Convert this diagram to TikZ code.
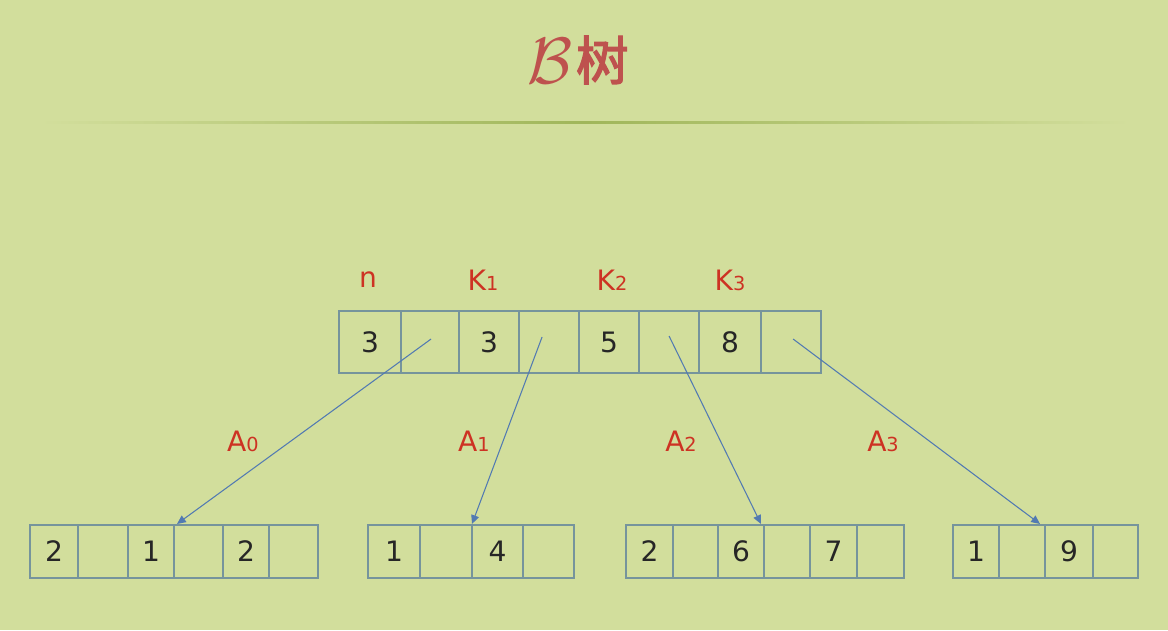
\documentclass[tikz,border=0pt]{standalone}
\usepackage{fontspec}
\setmainfont{DejaVu Sans}
\newfontfamily\cjk[FakeBold=2.5]{Noto Sans CJK SC}
\usetikzlibrary{arrows.meta,calc}
\definecolor{bgc}{RGB}{210,222,156}
\definecolor{rulec}{RGB}{160,182,90}
\definecolor{cellc}{RGB}{118,148,156}
\definecolor{labc}{RGB}{205,50,35}
\definecolor{titc}{RGB}{190,82,78}
\definecolor{arrc}{RGB}{82,122,178}
\newcommand\topcell[4]{\node[cell, minimum width={(#3-#2)*0.02cm}, minimum height={62*0.02cm}, anchor=west] (#1) at (#2,342) {#4};}
\newcommand\botcell[4]{\node[cell, minimum width={(#3-#2)*0.02cm}, minimum height={53*0.02cm}, anchor=west] (#1) at (#2,551.5) {#4};}
\newcommand\smalldig[1]{{\fontsize{11}{11}\selectfont #1}}
\newcommand\titletext{\raisebox{-2pt}{\scalebox{1.5}{$\mathcal{B}$}}\kern2pt{\cjk 树}}
\begin{document}
\begin{tikzpicture}[x=0.02cm,y=-0.02cm,
  cell/.style={draw=cellc, line width=1.2pt, inner sep=0pt, font=\fontsize{16}{16}\selectfont, text=black!85},
  lab/.style={text=labc, font=\fontsize{16}{16}\selectfont},
  ptr/.style={draw=arrc, line width=0.6pt, -{Triangle[length=5pt,width=4.5pt]}}]
\fill[bgc] (0,0) rectangle (1168,630);
\useasboundingbox (0,0) rectangle (1168,630);
\shade[left color=bgc, right color=bgc, middle color=rulec] (40,121) rectangle (1130,123.5);
\node[text=titc, inner sep=0pt, font=\fontsize{30}{30}\selectfont] (title) at (578,60) {\titletext};
% top node
\topcell{t1}{338}{400}{3}
\topcell{t2}{400}{458}{}
\topcell{t3}{458}{518}{3}
\topcell{t4}{518}{578}{}
\topcell{t5}{578}{638}{5}
\topcell{t6}{638}{698}{}
\topcell{t7}{698}{760}{8}
\topcell{t8}{760}{820}{}
\node[lab] (ln) at (368,280) {n};
\node[lab] (lk1) at (483,280) {K\smalldig{1}};
\node[lab] (lk2) at (612,280) {K\smalldig{2}};
\node[lab] (lk3) at (730,280) {K\smalldig{3}};
% bottom nodes
\botcell{a1}{29}{77}{2}
\botcell{a2}{77}{127}{}
\botcell{a3}{127}{173}{1}
\botcell{a4}{173}{222}{}
\botcell{a5}{222}{268}{2}
\botcell{a6}{268}{317}{}
\botcell{b1}{367}{419}{1}
\botcell{b2}{419}{471}{}
\botcell{b3}{471}{522}{4}
\botcell{b4}{522}{573}{}
\botcell{c1}{625}{672}{2}
\botcell{c2}{672}{717}{}
\botcell{c3}{717}{763}{6}
\botcell{c4}{763}{809}{}
\botcell{c5}{809}{856}{7}
\botcell{c6}{856}{903}{}
\botcell{d1}{952}{998}{1}
\botcell{d2}{998}{1044}{}
\botcell{d3}{1044}{1092}{9}
\botcell{d4}{1092}{1137}{}
% pointers
\draw[ptr] ($(t2.center)+(1,-3)$) -- ($(a4.north west)+(4,0)$);
\draw[ptr] ($(t4.center)+(-7,-5)$) -- ($(b3.north west)+(1,0)$);
\draw[ptr] ($(t6.center)+(0,-6)$) -- ($(c4.north west)+(-2,0)$);
\draw[ptr] ($(t8.center)+(2,-3)$) -- ($(d3.north west)+(-4,0)$);
\node[lab] (la0) at (243,441) {A\smalldig{0}};
\node[lab] (la1) at (474,441) {A\smalldig{1}};
\node[lab] (la2) at (681,441) {A\smalldig{2}};
\node[lab] (la3) at (883,441) {A\smalldig{3}};
\end{tikzpicture}
\end{document}
